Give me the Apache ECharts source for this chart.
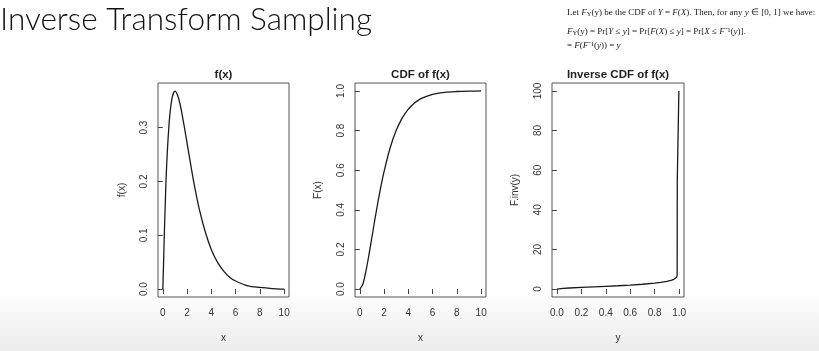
<!DOCTYPE html>
<html><head><meta charset="utf-8">
<script src="https://cdn.jsdelivr.net/npm/echarts@6/dist/echarts.min.js"></script>
<style>html,body{margin:0;padding:0;background:#fff}#c{width:819px;height:351px}</style>
</head><body><div id="c"></div>
<script>
// ---- data ----
const pdfX = [0,0.25,0.5,0.75,1,1.25,1.5,1.75,2,2.5,3,3.5,4,4.5,5,5.5,6,7,8,9,10];
const pdfY = [0,0.195,0.303,0.354,0.368,0.358,0.335,0.304,0.271,0.205,0.149,0.106,0.073,0.050,0.034,0.022,0.015,0.006,0.003,0.001,0.000];
const cdfX = [0,0.25,0.5,0.75,1,1.25,1.5,1.75,2,2.5,3,3.5,4,4.5,5,5.5,6,7,8,9,10];
const cdfY = [0,0.026,0.090,0.173,0.264,0.355,0.442,0.522,0.594,0.713,0.801,0.864,0.908,0.939,0.960,0.973,0.983,0.993,0.997,0.999,1.0];
const invX = [0,0.05,0.1,0.2,0.3,0.4,0.5,0.6,0.7,0.8,0.85,0.9,0.94,0.96,0.97,0.98,0.984,0.985,0.997,0.998];
const invY = [0,0.36,0.53,0.82,1.10,1.38,1.68,2.02,2.44,2.99,3.37,3.89,4.53,5.05,5.42,5.95,7.2,54.5,54.5,100];
const xTicks1 = [0,2,4,6,8,10];
const yTicks1 = [0,0.1,0.2,0.3];
const yTicks2 = [0,0.2,0.4,0.6,0.8,1.0];
const xTicks3 = [0,0.2,0.4,0.6,0.8,1.0];
const yTicks3 = [0,20,40,60,80,100];
const titles = ['f(x)','CDF of f(x)','Inverse CDF of f(x)'];
const xNames = ['x','x','y'];
const yNames = ['f(x)','F(x)','F.inv(y)'];

const pair = (a,b)=>a.map((v,i)=>[v,b[i]]);
const chart = echarts.init(document.getElementById('c'));
const TXT = '#333';
const FONT = 'Liberation Sans';
function xAxis(i,min,max,ticks,fmt){
  return {gridIndex:i,type:'value',min:min,max:max,
    axisLine:{show:false},
    axisTick:{show:true,inside:false,length:5,customValues:ticks,lineStyle:{color:'#444'}},
    axisLabel:{customValues:ticks,margin:11,color:TXT,fontSize:10,fontFamily:FONT,formatter:fmt},
    splitLine:{show:false},
    name:xNames[i],nameLocation:'middle',nameGap:36,nameTextStyle:{color:TXT,fontSize:10,fontFamily:FONT}};
}
function yAxis(i,min,max,ticks,fmt,gap){
  return {gridIndex:i,type:'value',min:min,max:max,
    axisLine:{show:false},
    axisTick:{show:true,inside:false,length:5,customValues:ticks,lineStyle:{color:'#444'}},
    axisLabel:{customValues:ticks,margin:9,rotate:90,color:TXT,fontSize:10,fontFamily:FONT,formatter:fmt},
    splitLine:{show:false},
    name:yNames[i],nameLocation:'middle',nameRotate:90,nameGap:gap,nameTextStyle:{color:TXT,fontSize:10,fontFamily:FONT}};
}
const f1 = v=>v.toFixed(1), f0 = v=>String(Math.round(v));
const grids = [{left:158,top:83,width:131,height:214},{left:355,top:83,width:131,height:214},{left:552,top:83,width:132,height:214}];
const serif = {fontSize:9,fontFamily:'Liberation Serif'};
const rich = {i:Object.assign({fontStyle:'italic'},serif),s:{fontSize:6.5,fontFamily:'Liberation Serif',padding:[4,0,0,0]}};
chart.setOption({
  animation:false,
  backgroundColor:{type:'linear',x:0,y:0,x2:0,y2:1,colorStops:[{offset:0,color:'#ffffff'},{offset:0.82,color:'#ffffff'},{offset:1,color:'#ececec'}]},
  title:titles.map((t,i)=>({text:t,left:grids[i].left+grids[i].width/2,top:69,padding:0,textAlign:'center',
     textStyle:{fontSize:11.5,fontWeight:'bold',color:'#222',fontFamily:FONT}})),
  grid:grids.map(g=>Object.assign({show:true,borderColor:'#555',borderWidth:1,backgroundColor:'transparent'},g)),
  xAxis:[xAxis(0,-0.4,10.4,xTicks1,f0),xAxis(1,-0.4,10.4,xTicks1,f0),xAxis(2,-0.04,1.04,xTicks3,f1)],
  yAxis:[yAxis(0,-0.0147,0.383,yTicks1,f1,31),yAxis(1,-0.04,1.04,yTicks2,f1,32),yAxis(2,-4,104,yTicks3,f0,32)],
  series:[
    {type:'line',xAxisIndex:0,yAxisIndex:0,data:pair(pdfX,pdfY),smooth:0.3,showSymbol:false,lineStyle:{color:'#1a1a1a',width:1.3}},
    {type:'line',xAxisIndex:1,yAxisIndex:1,data:pair(cdfX,cdfY),smooth:0.3,showSymbol:false,lineStyle:{color:'#1a1a1a',width:1.3}},
    {type:'line',xAxisIndex:2,yAxisIndex:2,data:pair(invX,invY),smooth:false,showSymbol:false,lineStyle:{color:'#1a1a1a',width:1.3}}
  ],
  graphic:[
    {type:'text',left:0,top:4,style:{text:'Inverse Transform Sampling',fontSize:31.5,fontFamily:'Lato',fontWeight:300,fill:'#111'}},
    {type:'text',left:567,top:8,style:Object.assign({text:'Let {i|F}{s|Y}(y) be the CDF of {i|Y} = {i|F}({i|X}). Then, for any {i|y} ∈ [0, 1] we have:',fill:'#222',rich:rich},serif)},
    {type:'text',left:567,top:27,style:Object.assign({text:'{i|F}{s|Y}(y) = Pr[{i|Y} ≤ {i|y}] = Pr[{i|F}({i|X}) ≤ {i|y}] = Pr[{i|X} ≤ {i|F}⁻¹({i|y})].',fill:'#222',rich:rich},serif)},
    {type:'text',left:567,top:41,style:Object.assign({text:'= {i|F}({i|F}⁻¹({i|y})) = {i|y}',fill:'#222',rich:rich},serif)}
  ]
});
</script></body></html>
